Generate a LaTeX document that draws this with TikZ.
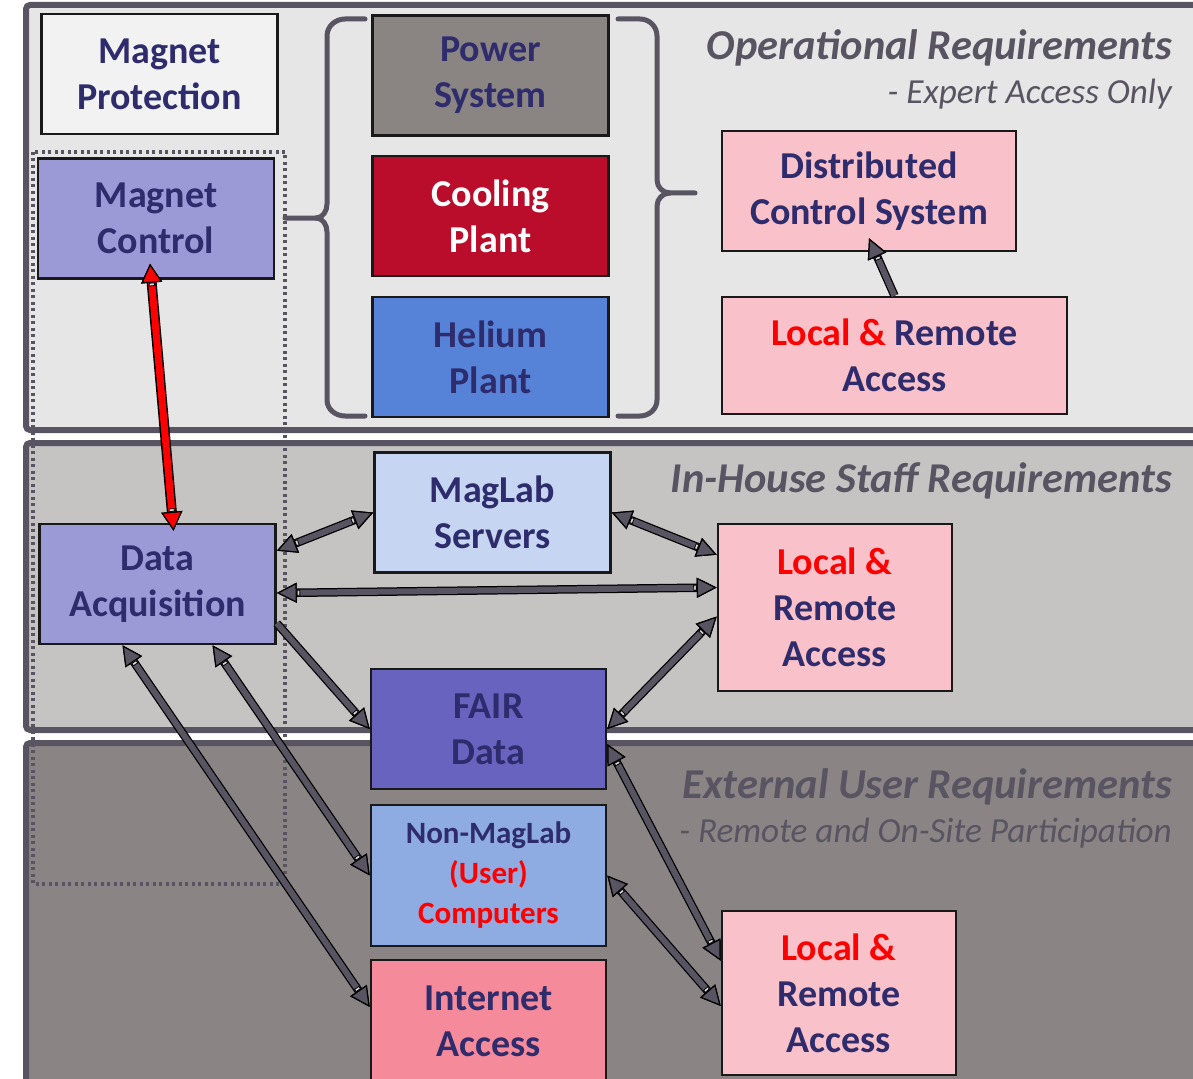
\documentclass[tikz,border=0pt]{standalone}
\usepackage{fontspec}
\setmainfont{Carlito}
\usepackage{tikz}
\usetikzlibrary{arrows.meta}

\definecolor{frame}{RGB}{88,84,98}
\definecolor{navy}{RGB}{46,44,108}
\definecolor{alert}{RGB}{255,0,0}
\definecolor{opfill}{RGB}{230,230,230}
\definecolor{stafffill}{RGB}{197,196,194}
\definecolor{extfill}{RGB}{138,132,132}
\definecolor{protfill}{RGB}{242,242,242}
\definecolor{ctlfill}{RGB}{155,154,214}
\definecolor{powerfill}{RGB}{138,132,131}
\definecolor{coolfill}{RGB}{186,12,43}
\definecolor{heliumfill}{RGB}{86,131,216}
\definecolor{accessfill}{RGB}{249,193,202}
\definecolor{serverfill}{RGB}{198,214,242}
\definecolor{fairfill}{RGB}{104,99,190}
\definecolor{userfill}{RGB}{142,171,226}
\definecolor{netfill}{RGB}{245,138,154}

\newcommand\cellfont{\bfseries\fontsize{38}{46}\selectfont}
\newcommand\smallcellfont{\bfseries\fontsize{31}{40}\selectfont}
\newcommand\headfont{\bfseries\itshape\fontsize{42.5}{50}\selectfont}
\newcommand\subheadfont{\itshape\fontsize{35.2}{40}\selectfont}

\tikzset{
	gtip/.tip={Rectangle[length=3.5pt,width=6pt,line width'=0.8pt,color=black,fill=white!85!black] Triangle[length=20pt,width=20pt,line width'=1.2pt,color=black,fill=frame]},
	rtip/.tip={Rectangle[length=3.5pt,width=6pt,line width'=0.8pt,color=black,fill=white!85!black] Triangle[length=19pt,width=21pt,line width'=1.2pt,color=black,fill=alert]},
	panel/.style={draw=frame, line width=6pt, rounded corners=4pt},
	cell/.style={draw=black!90, line width=2.5pt, inner sep=0pt, align=center, font=\cellfont, text=navy, execute at begin node={\rule{0pt}{1.0em}}},
	block/.style={minimum width=236pt, minimum height=120pt},
	head/.style={anchor=base east, inner sep=0pt, text=frame, font=\headfont},
	subhead/.style={anchor=base east, inner sep=0pt, text=frame, font=\subheadfont},
	link/.style={line width=8.5pt, black, gtip-gtip, postaction={draw=frame, line width=6pt}},
	redlink/.style={line width=10pt, black, rtip-rtip, postaction={draw=alert, line width=7pt}}
}

\begin{document}
\begin{tikzpicture}[x=1pt, y=-1pt]
	\useasboundingbox (0,0) rectangle (1193,1078);
	\clip (0,0) rectangle (1193,1078);
	\fill[white] (0,0) rectangle (1193,1078);

	\filldraw[panel, fill=opfill] (26,5) rectangle (1215,430);
	\filldraw[panel, fill=stafffill] (26,443) rectangle (1215,730);
	\filldraw[panel, fill=extfill] (26,743) rectangle (1215,1100);

	\draw[frame, line width=3.5pt, dash pattern=on 3pt off 3.5pt] (33,152) rectangle (285,884);

	\draw[frame, line width=5pt, line cap=round] (365,19) -- (345,19) to[out=180,in=90] (327,36) -- (327,204) to[out=-90,in=0] (316,218) -- (285,218);
	\draw[frame, line width=5pt, line cap=round] (316,218) to[out=0,in=90] (327,232) -- (327,400) to[out=-90,in=180] (345,416) -- (365,416);
	\draw[frame, line width=5pt, line cap=round] (618,19) -- (640,19) to[out=0,in=90] (657,36) -- (657,180) to[out=-90,in=180] (670,193) -- (695,193);
	\draw[frame, line width=5pt, line cap=round] (670,193) to[out=180,in=90] (657,206) -- (657,400) to[out=-90,in=0] (640,416) -- (618,416);

	\node[cell, block, fill=protfill] (prot) at (159.5,74) {Magnet\\Protection};
	\node[cell, block, fill=ctlfill] (mctl) at (156,218.5) {Magnet\\Control};
	\node[cell, block, fill=powerfill] (power) at (490.5,75.5) {Power\\System};
	\node[cell, block, fill=coolfill, text=white] (cool) at (490.5,216) {Cooling\\Plant};
	\node[cell, block, fill=heliumfill] (helium) at (490.5,357) {Helium\\Plant};
	\node[cell, fill=accessfill, minimum width=294pt, minimum height=120pt] (dcs) at (869,191) {Distributed\\Control System};
	\node[cell, fill=accessfill, minimum width=345pt, minimum height=117pt] (lra1) at (894.5,355.5) {{\color{alert}Local \&} Remote\\Access};

	\node[cell, block, fill=ctlfill] (daq) at (157.5,584) {Data\\Acquisition};
	\node[cell, block, fill=serverfill] (servers) at (492.5,512.5) {MagLab\\Servers};
	\node[cell, fill=accessfill, minimum width=234pt, minimum height=167pt] (lra2) at (835,607.5) {{\color{alert}Local \&}\\Remote\\Access};
	\node[cell, fill=fairfill, minimum width=235pt, minimum height=120pt] (fair) at (488.5,729) {FAIR\\Data};

	\node[cell, fill=userfill, font=\smallcellfont, minimum width=235pt, minimum height=141pt] (users) at (488.5,875.5) {Non-MagLab\\{\color{alert}(User)}\\{\color{alert}Computers}};
	\node[cell, fill=netfill, minimum width=235pt, minimum height=122pt] (inet) at (488.5,1021) {Internet\\Access};
	\node[cell, fill=accessfill, minimum width=234pt, minimum height=164pt] (lra3) at (839,993) {{\color{alert}Local \&}\\Remote\\Access};

	\node[head] (ophead) at (1172,60) {Operational Requirements};
	\node[subhead] (opsub) at (1172,104) {- Expert Access Only};
	\node[head] (staffhead) at (1172,492) {In-House Staff Requirements};
	\node[head] (exthead) at (1172,798) {External User Requirements};
	\node[subhead] (extsub) at (1172,842) {- Remote and On-Site Participation};

	\draw[link, -gtip] (lra1.north) -- ([yshift=14pt]dcs.south);
	\draw[redlink] ([xshift=-6pt,yshift=16pt]mctl.south) -- ([xshift=16pt,yshift=-8pt]daq.north);
	\draw[link] ([yshift=-28pt]daq.north east) -- (servers.west);
	\draw[link] (servers.east) -- ([yshift=-32pt]lra2.north west);
	\draw[link] ([yshift=-9pt]daq.east) -- ([yshift=20pt]lra2.west);
	\draw[link, -gtip] ([yshift=22pt]daq.south east) -- (fair.west);
	\draw[link] (fair.east) -- ([yshift=-9pt]lra2.west);
	\draw[link] ([xshift=55pt]daq.south) -- (users.west);
	\draw[link] ([xshift=-35pt]daq.south) -- ([yshift=14pt]inet.west);
	\draw[link] ([yshift=-15pt]fair.east) -- ([yshift=-51pt]lra3.north west);
	\draw[link] (users.east) -- ([yshift=-13pt]lra3.west);
\end{tikzpicture}
\end{document}
